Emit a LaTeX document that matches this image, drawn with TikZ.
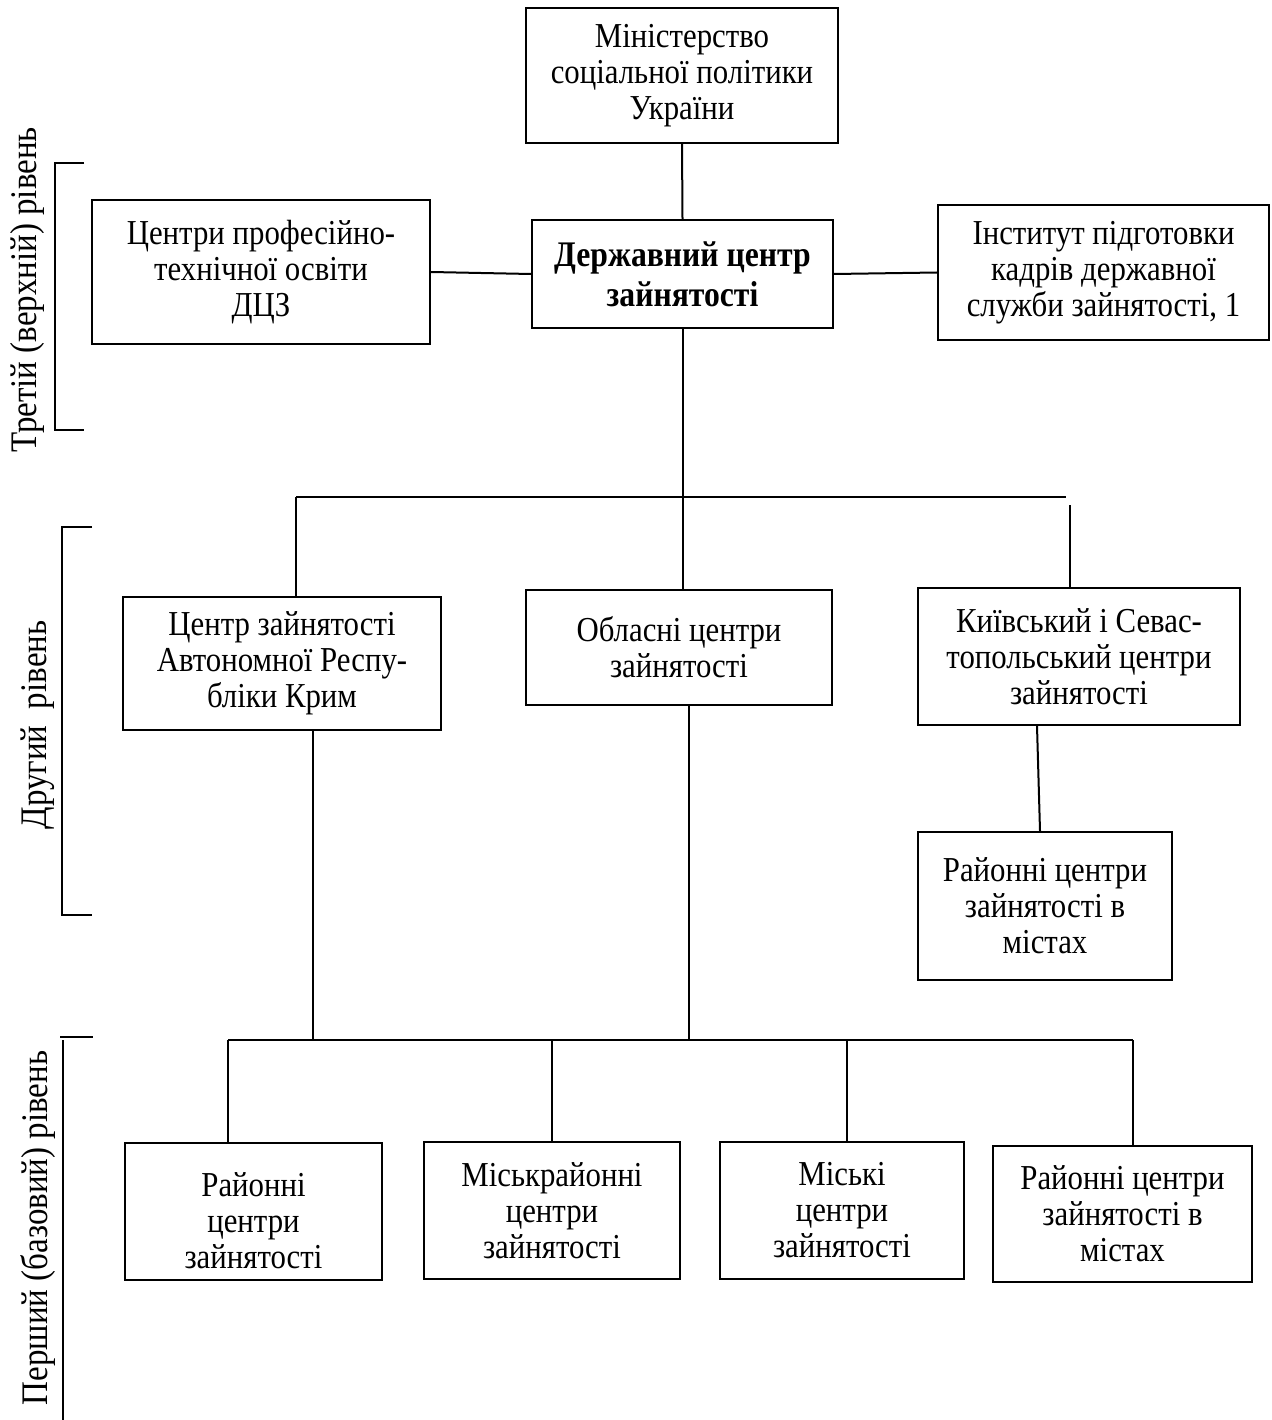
\documentclass[tikz,border=0pt]{standalone}
\usepackage{fontspec}
\setmainfont{Liberation Serif}[FakeStretch=0.88]
\usetikzlibrary{calc}
\begin{document}
\begin{tikzpicture}[x=1pt,y=-1pt,
  every node/.style={font=\fontsize{35}{36}\selectfont},
  box/.style={draw,line width=2pt,inner sep=0pt,align=center},
  conn/.style={line width=2pt},
  lvl/.style={rotate=90,inner sep=0pt,font=\fontsize{37.5}{40}\selectfont}]
\useasboundingbox (0,0) rectangle (1271,1420);
% boxes
\node[box,minimum width=312,minimum height=135] (mins) at (682,75.5) {Міністерство\\соціальної політики\\України};
\node[box,minimum width=301,minimum height=108,font=\fontsize{36}{40}\selectfont\bfseries] (dcz) at (682.5,274) {Державний центр\\зайнятості};
\node[box,minimum width=338,minimum height=144] (prof) at (261,272) {Центри професійно-\\технічної освіти\\ДЦЗ};
\node[box,minimum width=331,minimum height=135] (inst) at (1103.5,272.5) {Інститут підготовки\\кадрів державної\\служби зайнятості, 1};
\node[box,minimum width=318,minimum height=133] (crim) at (282,663.5) {Центр зайнятості\\Автономної Респу-\\бліки Крим};
\node[box,minimum width=306,minimum height=115] (obl) at (679,647.5) {Обласні центри\\зайнятості};
\node[box,minimum width=322,minimum height=137] (kyiv) at (1079,656.5) {Київський і Севас-\\топольський центри\\зайнятості};
\node[box,minimum width=254,minimum height=148] (rcity) at (1045,906) {Районні центри\\зайнятості в\\містах};
\node[box,minimum width=257,minimum height=137] (b1) at (253.5,1211.5) {};
\node at ($(b1.center)+(0,9)$) [align=center,inner sep=0pt] {Районні\\центри\\зайнятості};
\node[box,minimum width=256,minimum height=137] (b2) at (552,1210.5) {Міськрайонні\\центри\\зайнятості};
\node[box,minimum width=244,minimum height=137] (b3) at (842,1210.5) {Міські\\центри\\зайнятості};
\node[box,minimum width=259,minimum height=136] (b4) at (1122.5,1214) {Районні центри\\зайнятості в\\містах};
% level labels
\node[lvl] (l3) at (27,290) {Третій (верхній) рівень};
\node[lvl] (l2) at (38,725) {Другий\ \ рівень};
\node[lvl] (l1) at (38,1228) {Перший (базовий) рівень};
% brackets
\draw[conn] (84,163) -- (55,163) -- (55,430) -- (84,430);
\draw[conn] (92,527) -- (62,527) -- (62,915) -- (92,915);
\draw[conn] (60,1037) -- (93,1037);
\draw[conn] (63,1040) -- (63,1420);
% connectors top level
\draw[conn] (mins.south) -- (dcz.north);
\draw[conn] (prof.east) -- (dcz.west);
\draw[conn] (dcz.east) -- (inst.west);
\draw[conn] (dcz.south) -- (dcz.south |- obl.north);
% second-level bus
\coordinate (busL) at (296,497);
\coordinate (busR) at (1066,497);
\coordinate (kyivTop) at (1070,505);
\draw[conn] (busL) -- (busR);
\draw[conn] (busL) -- (busL |- crim.north);
\draw[conn] (kyivTop) -- (kyivTop |- kyiv.north);
\draw[conn] ($(kyiv.south)+(-42,0)$) -- ($(rcity.north)+(-5,0)$);
% first-level bus
\coordinate (crimB) at (313,1040);
\coordinate (oblB) at (689,1040);
\coordinate (busA) at (228,1040);
\coordinate (busB) at (1133,1040);
\draw[conn] (crimB |- crim.south) -- (crimB);
\draw[conn] (oblB |- obl.south) -- (oblB);
\draw[conn] (busA) -- (busB);
\draw[conn] (busA) -- (busA |- b1.north);
\draw[conn] (552,1040) -- (b2.north);
\draw[conn] (847,1040) -- (847,1040 |- b3.north);
\draw[conn] (busB) -- (busB |- b4.north);
\end{tikzpicture}
\end{document}
